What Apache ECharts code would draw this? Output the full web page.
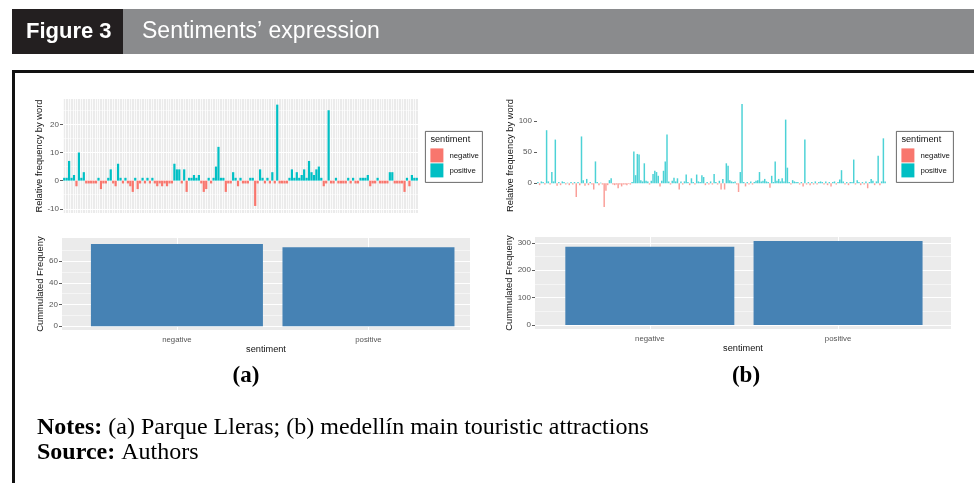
<!DOCTYPE html>
<html><head><meta charset="utf-8">
<script src="https://cdn.jsdelivr.net/npm/echarts@6/dist/echarts.min.js"></script>
<style>html,body{margin:0;padding:0;background:#fff}#c{width:974px;height:483px}</style>
</head><body><div id="c"></div>
<script>
// ---------- DATA ----------
// (a) Parque Lleras: relative frequency by word (positive > 0, negative < 0)
const valsA = [1,1,7,1,2,-2,10,1,3,-1,
  -1,-1,-1,-1,1,
  -3,-1,-1,
  1,4,-1,-2,6,
  1,-1,1,-1,-2,-4,1,
  -3,-1,1,-1,1,-1,1,
  -1,-2,-1,-2,-1,-2,-1,-1,
  6,4,4,-1,4,-4,
  1,1,2,1,2,-1,-4,-3,
  1,-1,1,5,12,1,
  1,-4,-1,-1,3,1,-2,1,
  -1,-1,-1,1,1,-9,
  -1,4,1,-1,1,-1,3,-1,27,
  -1,-1,-1,-1,1,
  4,1,3,1,2,4,1,7,3,2,4,5,1,
  -2,-1,25,-1,-1,1,
  -1,-1,-1,-1,1,-1,1,
  -1,-1,1,1,1,2,-2,-1,-1,1,-1,
  -1,-1,-1,3,3,-1,-1,
  -1,-1,-4,1,-2,2,1,1];
// (b) Medellín main touristic attractions: relative frequency by word
const valsB = [2,-3,3,2,-2,85,3,-2,18,3,
  70,-4,2,-3,3,2,-2,1,-3,2,
  -2,2,-22,2,-3,75,5,-4,7,-3,
  2,-2,-10,35,2,-3,1,-2,-38,-12,
  -3,5,8,-2,-3,-2,-8,-2,-5,-2,
  -2,-3,-1,-2,2,51,13,47,46,5,
  3,32,4,3,-2,4,15,20,18,12,
  -5,4,20,35,78,3,-2,4,9,3,
  8,-10,3,-2,3,14,2,-3,8,2,
  -2,14,3,2,13,10,-3,2,-2,3,
  -2,15,2,-2,4,-10,7,-10,32,28,
  5,3,2,3,-2,-14,18,127,2,-5,
  2,-2,3,-2,2,4,5,18,3,4,
  7,3,2,-7,12,2,35,4,7,3,
  8,3,102,25,2,-2,5,3,2,2,
  -2,2,-5,70,-2,2,-3,2,-2,3,
  -2,2,3,2,-2,3,-3,2,-5,2,
  3,-2,2,6,21,3,-2,2,-3,2,
  2,38,-2,5,2,-3,2,-2,3,-8,
  2,7,4,-3,3,44,-3,3,72,3];
const sentCats = ['negative', 'positive'];
const cumA = [76, 73];
const cumB = [285, 306];
const ticksA1 = [-10, 0, 10, 20];
const ticksA2 = [0, 20, 40, 60];
const ticksB1 = [0, 50, 100];
const ticksB2 = [0, 100, 200, 300];
const minorA1 = [-5, 5, 15, 25];
const minorA2 = [10, 30, 50, 70];
const minorB2 = [50, 150, 250];

// ---------- STYLE ----------
const TEAL = '#00BFC4', SALMON = '#F8766D', STEEL = '#4682B4', PANEL = '#EBEBEB';
const SANS = 'Liberation Sans, Arial, sans-serif';
const SERIF = 'Liberation Serif, Times New Roman, serif';
const wordsA = valsA.map((_, i) => 'a' + (i + 1));
const wordsB = valsB.map((_, i) => 'b' + (i + 1));
const signColor = p => (p.value >= 0 ? TEAL : SALMON);

function gridMarks(major, minor, xs) {
  const d = [];
  major.forEach(v => d.push({ yAxis: v, lineStyle: { width: 1.1 } }));
  (minor || []).forEach(v => d.push({ yAxis: v, lineStyle: { width: 0.5 } }));
  (xs || []).forEach(v => d.push({ xAxis: v, lineStyle: { width: 1.1 } }));
  return { silent: true, z: 1, symbol: ['none', 'none'], label: { show: false },
    lineStyle: { color: '#ffffff', type: 'solid' }, emphasis: { disabled: true }, animation: false, data: d };
}
function yAxisCfg(grid, min, max, ticks, name, gap, margin) {
  return {
    type: 'value', gridIndex: grid, min: min, max: max,
    axisLine: { show: false }, splitLine: { show: false },
    axisTick: { show: true, customValues: ticks, length: 3, lineStyle: { color: '#333', width: 0.8 } },
    axisLabel: { customValues: ticks, color: '#555', fontSize: 8, fontFamily: SANS, margin: margin },
    name: name, nameLocation: 'middle', nameRotate: 90, nameGap: gap,
    nameTextStyle: { color: '#111', fontSize: 9.4, fontFamily: SANS }
  };
}
function xCatAxis(grid, data, split) {
  return {
    type: 'category', gridIndex: grid, data: data, boundaryGap: true,
    axisLine: { show: false }, axisTick: { show: false }, axisLabel: { show: false },
    splitLine: { show: split, interval: 0, lineStyle: { color: '#ffffff', width: 0.8 } }
  };
}
function xSentAxis(grid, min, max, gap) {
  return {
    type: 'value', gridIndex: grid, min: min, max: max,
    axisLine: { show: false }, splitLine: { show: false },
    axisTick: { show: true, customValues: [1, 2], length: 3, lineStyle: { color: '#333', width: 0.8 } },
    axisLabel: { customValues: [1, 2], formatter: v => sentCats[Math.round(v) - 1], color: '#555',
      fontSize: 7.8, fontFamily: SANS, margin: 6 },
    name: 'sentiment', nameLocation: 'middle', nameGap: gap,
    nameTextStyle: { color: '#111', fontSize: 9.2, fontFamily: SANS }
  };
}
function legend(x, y) {
  return {
    type: 'group', left: x, top: y, children: [
      { type: 'rect', shape: { x: 0, y: 0, width: 57, height: 51 }, style: { fill: '#fff', stroke: '#444', lineWidth: 0.8 } },
      { type: 'text', x: 5, y: 4, style: { text: 'sentiment', font: '9.2px ' + SANS, fill: '#111' } },
      { type: 'rect', shape: { x: 5, y: 17, width: 13, height: 14 }, style: { fill: SALMON } },
      { type: 'rect', shape: { x: 5, y: 32, width: 13, height: 14 }, style: { fill: TEAL } },
      { type: 'text', x: 24, y: 20, style: { text: 'negative', font: '7.8px ' + SANS, fill: '#111' } },
      { type: 'text', x: 24, y: 35, style: { text: 'positive', font: '7.8px ' + SANS, fill: '#111' } }
    ]
  };
}

const chart = echarts.init(document.getElementById('c'), null, { renderer: 'canvas' });
chart.setOption({
  animation: false,
  backgroundColor: '#ffffff',
  grid: [
    { left: 63, top: 99, width: 355, height: 114, show: true, backgroundColor: PANEL, borderWidth: 0 },
    { left: 62, top: 238, width: 408, height: 92, show: true, backgroundColor: PANEL, borderWidth: 0 },
    { left: 537, top: 99, width: 349, height: 113, show: false },
    { left: 535, top: 237, width: 416, height: 92, show: true, backgroundColor: PANEL, borderWidth: 0 }
  ],
  xAxis: [
    xCatAxis(0, wordsA, true),
    xSentAxis(1, 0.4, 2.53, 15),
    xCatAxis(2, wordsB, false),
    xSentAxis(3, 0.39, 2.6, 14)
  ],
  yAxis: [
    yAxisCfg(0, -11.5, 29, ticksA1, 'Relative frequency by word', 18.5, 4),
    yAxisCfg(1, -3.5, 81.5, ticksA2, 'Cummulated Frequeny', 17.5, 4),
    yAxisCfg(2, -46, 135, ticksB1, 'Relative frequency by word', 19.5, 5),
    yAxisCfg(3, -15, 321, ticksB2, 'Cummulated Frequeny', 18.5, 4)
  ],
  series: [
    { type: 'bar', xAxisIndex: 0, yAxisIndex: 0, data: valsA, barCategoryGap: '10%', z: 2,
      itemStyle: { color: signColor }, markLine: gridMarks(ticksA1, minorA1) },
    { type: 'bar', xAxisIndex: 1, yAxisIndex: 1, data: cumA.map((v, i) => [i + 1, v]), barWidth: 172, z: 2,
      itemStyle: { color: STEEL }, markLine: gridMarks(ticksA2, minorA2, [1, 2]) },
    { type: 'bar', xAxisIndex: 2, yAxisIndex: 2, data: valsB, barCategoryGap: '15%', z: 2,
      itemStyle: { color: signColor, opacity: 0.7 } },
    { type: 'bar', xAxisIndex: 3, yAxisIndex: 3, data: cumB.map((v, i) => [i + 1, v]), barWidth: 169, z: 2,
      itemStyle: { color: STEEL }, markLine: gridMarks(ticksB2, minorB2, [1, 2]) }
  ],
  graphic: [
    { type: 'rect', shape: { x: 12, y: 9, width: 962, height: 45 }, style: { fill: '#8a8b8d' } },
    { type: 'rect', shape: { x: 12, y: 9, width: 111, height: 45 }, style: { fill: '#231f20' } },
    { type: 'text', x: 26, y: 32, style: { text: 'Figure 3', font: 'bold 22px ' + SANS, fill: '#fff', verticalAlign: 'middle' } },
    { type: 'text', x: 142, y: 32, style: { text: 'Sentiments’ expression', font: '23px ' + SANS, fill: '#fff', verticalAlign: 'middle' } },
    { type: 'rect', shape: { x: 13.5, y: 71.5, width: 980, height: 500 }, style: { fill: 'none', stroke: '#111', lineWidth: 3 } },
    legend(425, 131),
    legend(896, 131),
    { type: 'text', x: 246, y: 376, style: { text: '(a)', font: 'bold 23px ' + SERIF, fill: '#000', align: 'center', verticalAlign: 'middle' } },
    { type: 'text', x: 746, y: 376, style: { text: '(b)', font: 'bold 23px ' + SERIF, fill: '#000', align: 'center', verticalAlign: 'middle' } },
    { type: 'text', x: 37, y: 428, style: {
      text: '{b|Notes:} (a) Parque Lleras; (b) medellín main touristic attractions',
      font: '24px ' + SERIF, fill: '#000', verticalAlign: 'middle',
      rich: { b: { font: 'bold 24px ' + SERIF, fill: '#000' } } } },
    { type: 'text', x: 37, y: 453, style: {
      text: '{b|Source:} Authors',
      font: '24px ' + SERIF, fill: '#000', verticalAlign: 'middle',
      rich: { b: { font: 'bold 24px ' + SERIF, fill: '#000' } } } }
  ]
});
</script></body></html>
